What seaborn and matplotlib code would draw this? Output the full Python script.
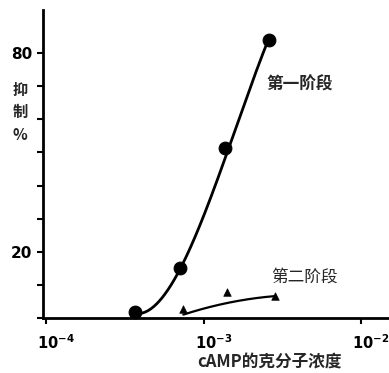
import numpy as np
import pandas as pd
import matplotlib
matplotlib.use("Agg")
import matplotlib.pyplot as plt
import seaborn as sns

# data
stage1_conc = [3.67e-4, 7.1e-4, 1.37e-3, 2.6e-3]
stage1_inhib = [1.9, 15.1, 51.4, 84.0]
stage2_conc = [7.44e-4, 1.40e-3, 2.84e-3]
stage2_inhib = [2.6, 7.9, 6.6]

# hand-drawn fitted curves
curve1_conc = [3.67e-4, 5.07e-4, 7.1e-4, 9.06e-4, 1.047e-3, 1.18e-3, 1.37e-3,
               1.78e-3, 2.18e-3, 2.6e-3]
curve1_inhib = [0.3, 6.9, 15.1, 23.6, 30.8, 40.0, 51.0, 63.8, 74.9, 84.0]
curve2_conc = [7.44e-4, 1.0e-3, 1.4e-3, 1.97e-3, 2.84e-3]
curve2_inhib = [1.0, 2.9, 4.4, 5.8, 6.6]

ytick_vals = [0, 10, 20, 30, 40, 50, 60, 70, 80]
ytick_labels = ["", "", "20", "", "", "", "", "", "80"]
xtick_vals = [1e-4, 1e-3, 1e-2]
xtick_labels = [r"$\mathbf{10^{-4}}$", r"$\mathbf{10^{-3}}$", r"$\mathbf{10^{-2}}$"]

sns.set_style("ticks")
plt.rcParams["font.family"] = ["Noto Sans CJK SC", "DejaVu Sans"]

fig = plt.figure(figsize=(3.89, 3.73), dpi=100)
ax = fig.add_axes([43 / 389, 1 - 318 / 373, 1 - 43 / 389, 308 / 373])


def smooth(xs, ys, deg):
    lx = np.log10(xs)
    p = np.polyfit(lx, ys, deg)
    grid = np.linspace(lx[0], lx[-1], 200)
    return pd.DataFrame({"x": 10 ** grid, "y": np.polyval(p, grid)})


c1 = smooth(curve1_conc, curve1_inhib, 3)
c2 = smooth(curve2_conc, curve2_inhib, 2)
sns.lineplot(data=c1, x="x", y="y", color="black", lw=2.0, ax=ax, sort=False)
sns.lineplot(data=c2, x="x", y="y", color="black", lw=1.6, ax=ax, sort=False)

d1 = pd.DataFrame({"x": stage1_conc, "y": stage1_inhib})
d2 = pd.DataFrame({"x": stage2_conc, "y": stage2_inhib})
sns.scatterplot(data=d1, x="x", y="y", marker="o", s=85, color="black",
                edgecolor="black", ax=ax, zorder=5, clip_on=False)
sns.scatterplot(data=d2, x="x", y="y", marker="^", s=30, color="black",
                edgecolor="black", ax=ax, zorder=5, clip_on=False)

ax.set_xscale("log")
ax.set_xlim(10 ** -4.02, 10 ** -1.822)
ax.set_ylim(0, 93)
ax.set_xticks(xtick_vals)
ax.set_xticklabels(xtick_labels, fontsize=10.5, family="DejaVu Sans")
ax.xaxis.set_minor_locator(matplotlib.ticker.NullLocator())
ax.set_yticks(ytick_vals)
ax.set_yticklabels(ytick_labels, fontsize=11, fontweight="bold", family="DejaVu Sans")
ax.tick_params(axis="both", direction="out", length=4, width=1.5, colors="black")
ax.tick_params(axis="x", pad=7)
for s in ["top", "right"]:
    ax.spines[s].set_visible(False)
for s in ["left", "bottom"]:
    ax.spines[s].set_linewidth(2.0)
    ax.spines[s].set_color("black")

# shift x tick labels so that "10" sits centred on the tick, as in the reference
offset = matplotlib.transforms.ScaledTranslation(-9 / 100, 0, fig.dpi_scale_trans)
for lab in ax.get_xticklabels():
    lab.set_horizontalalignment("left")
    lab.set_transform(lab.get_transform() + offset)

ax.set_xlabel("")
ax.set_ylabel("")
fig.text(269 / 389, 1 - 362 / 373, "cAMP的克分子浓度", ha="center", va="center",
         fontsize=12, fontweight="bold")
fig.text(20 / 389, 1 - 112 / 373, "抑\n制\n%", ha="center", va="center",
         fontsize=11, fontweight="bold", linespacing=1.5)
fig.text(300 / 389, 1 - 85 / 373, "第一阶段", ha="center", va="center",
         fontsize=12, fontweight="bold")
fig.text(304 / 389, 1 - 277 / 373, "第二阶段", ha="center", va="center",
         fontsize=12)

fig.savefig("out.png", dpi=100)
